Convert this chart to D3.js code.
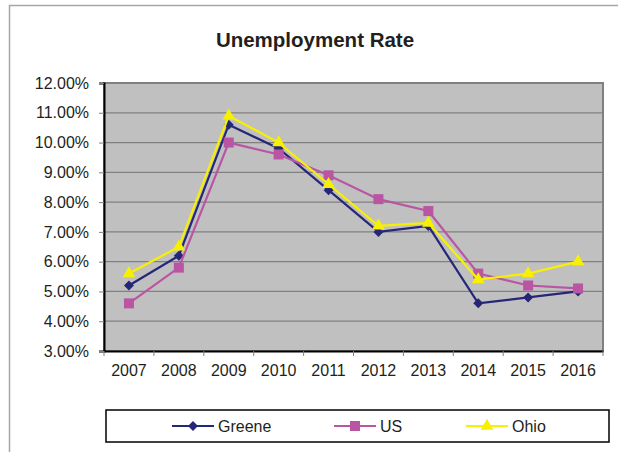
<!DOCTYPE html>
<html>
<head>
<meta charset="utf-8">
<script src="https://cdn.jsdelivr.net/npm/d3@7"></script>
<style>
  html, body { margin: 0; padding: 0; background: #fff; }
  svg { display: block; font-family: Arial, "Liberation Sans", sans-serif; }
</style>
</head>
<body>
<svg id="chart" width="618" height="452"></svg>
<script>
const years = ["2007","2008","2009","2010","2011","2012","2013","2014","2015","2016"];
const greene = [5.2, 6.2, 10.6, 9.8, 8.4, 7.0, 7.2, 4.6, 4.8, 5.0];
const us     = [4.6, 5.8, 10.0, 9.6, 8.9, 8.1, 7.7, 5.6, 5.2, 5.1];
const ohio   = [5.6, 6.5, 10.9, 10.0, 8.6, 7.2, 7.3, 5.4, 5.6, 6.0];
const yTicks = [3, 4, 5, 6, 7, 8, 9, 10, 11, 12];
const seriesNames = ["Greene", "US", "Ohio"];
const title = "Unemployment Rate";

const series = [
  { name: seriesNames[0], values: greene, color: "#262678", marker: "diamond" },
  { name: seriesNames[1], values: us,     color: "#BA55A3", marker: "square" },
  { name: seriesNames[2], values: ohio,   color: "#F7F000", marker: "triangle" }
];

const svg = d3.select("#chart");
const plot = { left: 104, right: 603, top: 83, bottom: 351 };

// outer chart border
svg.append("rect").attr("x", 9.5).attr("y", 5.5).attr("width", 620).attr("height", 460)
  .attr("fill", "#fff").attr("stroke", "#a6a6a6").attr("stroke-width", 1.5);

// title
svg.append("text").attr("x", 315).attr("y", 47).attr("text-anchor", "middle")
  .attr("font-size", 20.5).attr("font-weight", "bold").attr("fill", "#231f20").text(title);

const x = d3.scaleBand().domain(years).range([plot.left, plot.right]);
const y = d3.scaleLinear().domain([3, 12]).range([plot.bottom, plot.top]);

// plot background
svg.append("rect").attr("x", plot.left).attr("y", plot.top)
  .attr("width", plot.right - plot.left).attr("height", plot.bottom - plot.top)
  .attr("fill", "#c0c0c0").attr("stroke", "#808080").attr("stroke-width", 2);

// gridlines
svg.append("g").selectAll("line").data(yTicks.filter(d => d > 3 && d < 12)).join("line")
  .attr("x1", plot.left).attr("x2", plot.right)
  .attr("y1", d => y(d)).attr("y2", d => y(d))
  .attr("stroke", "#808080").attr("stroke-width", 1.2);

// y axis
const yAxis = svg.append("g").attr("transform", `translate(${plot.left},0)`)
  .call(d3.axisLeft(y).tickValues(yTicks).tickFormat(d => d.toFixed(2) + "%").tickSize(5).tickPadding(10));
yAxis.select(".domain").attr("stroke", "#000").attr("stroke-width", 2);
yAxis.selectAll(".tick line").attr("stroke", "#808080");
yAxis.selectAll(".tick text").attr("font-size", 16).attr("fill", "#231f20")
  .attr("font-family", "Arial, 'Liberation Sans', sans-serif");

// x axis
const xAxis = svg.append("g").attr("transform", `translate(0,${plot.bottom})`)
  .call(d3.axisBottom(x).tickSize(0).tickPadding(14));
xAxis.select(".domain").attr("stroke", "#000").attr("stroke-width", 2);
xAxis.selectAll(".tick text").attr("font-size", 16).attr("fill", "#231f20")
  .attr("font-family", "Arial, 'Liberation Sans', sans-serif");
// tick marks at category boundaries
const bounds = years.map(d => x(d)).concat([x(years[years.length - 1]) + x.bandwidth()]);
svg.append("g").selectAll("line").data(bounds).join("line")
  .attr("x1", d => d).attr("x2", d => d)
  .attr("y1", plot.bottom).attr("y2", plot.bottom + 5)
  .attr("stroke", "#808080").attr("stroke-width", 1);

const cx = (i) => x(years[i]) + x.bandwidth() / 2;

function drawMarker(g, type, color, px, py) {
  if (type === "diamond") {
    g.append("path").attr("d", d3.symbol(d3.symbolDiamond2, 64)())
      .attr("transform", `translate(${px},${py})`).attr("fill", color);
  } else if (type === "square") {
    g.append("rect").attr("x", px - 5).attr("y", py - 5).attr("width", 10).attr("height", 10)
      .attr("fill", color);
  } else {
    g.append("path").attr("d", d3.symbol(d3.symbolTriangle, 70)())
      .attr("transform", `translate(${px},${py})`).attr("fill", color);
  }
}

const line = d3.line().x((d, i) => cx(i)).y(d => y(d));
series.forEach(s => {
  const g = svg.append("g");
  g.append("path").datum(s.values).attr("d", line)
    .attr("fill", "none").attr("stroke", s.color).attr("stroke-width", 2.2);
  s.values.forEach((v, i) => drawMarker(g, s.marker, s.color, cx(i), y(v)));
});

// legend
const lg = svg.append("g");
lg.append("rect").attr("x", 106).attr("y", 410).attr("width", 503).attr("height", 32)
  .attr("fill", "#fff").attr("stroke", "#000").attr("stroke-width", 1.5);
const legendX = [172, 334, 466];
series.forEach((s, i) => {
  const lx = legendX[i], ly = 426;
  lg.append("line").attr("x1", lx).attr("x2", lx + 42).attr("y1", ly).attr("y2", ly)
    .attr("stroke", s.color).attr("stroke-width", 2.2);
  drawMarker(lg, s.marker, s.color, lx + 21, ly);
  lg.append("text").attr("x", lx + 46).attr("y", ly + 6).attr("font-size", 16)
    .attr("fill", "#231f20").text(s.name);
});
</script>
</body>
</html>
